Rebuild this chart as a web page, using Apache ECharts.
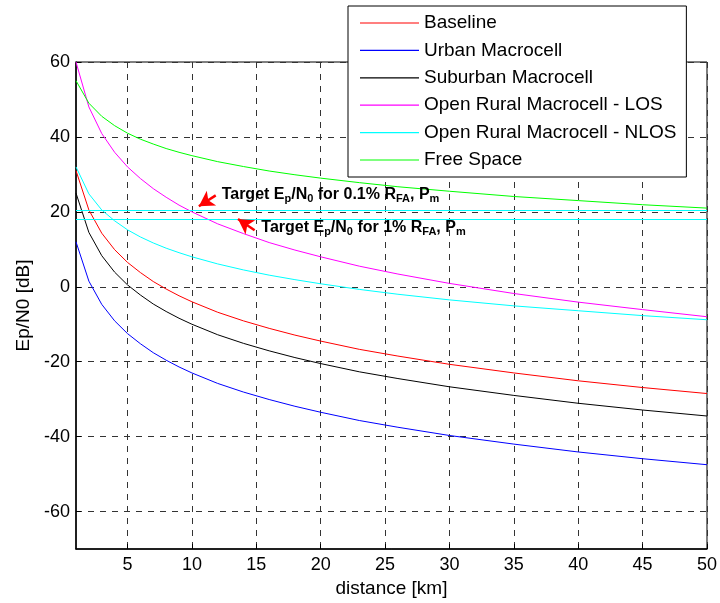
<!DOCTYPE html>
<html>
<head>
<meta charset="utf-8">
<script src="https://cdn.jsdelivr.net/npm/echarts@6/dist/echarts.min.js"></script>
<style>
  html, body { margin: 0; padding: 0; background: #fff; }
  #main { width: 720px; height: 603px; }
</style>
</head>
<body>
<div id="main"></div>
<script>
// distance [km]
var distance = [1, 2, 3, 4, 5, 6, 7, 8, 9, 10, 12, 14, 16, 18, 20, 23, 26, 30, 35, 40, 45, 50];

// Ep/N0 [dB]
var baseline = [31, 20.5, 14.3, 9.9, 6.5, 3.8, 1.4, -0.6, -2.4, -4.0, -6.8, -9.1, -11.1, -12.9, -14.5, -16.7, -18.5, -20.7, -23.0, -25.1, -26.9, -28.5];
var urban = [12, 1.5, -4.7, -9.1, -12.5, -15.2, -17.6, -19.6, -21.4, -23.0, -25.8, -28.1, -30.1, -31.9, -33.5, -35.7, -37.5, -39.7, -42.0, -44.1, -45.9, -47.5];
var suburban = [25, 14.5, 8.3, 3.9, 0.5, -2.2, -4.6, -6.6, -8.4, -10.0, -12.8, -15.1, -17.1, -18.9, -20.5, -22.7, -24.5, -26.7, -29.0, -31.1, -32.9, -34.5];
var ruralLos = [60, 48.0, 40.9, 35.9, 32.0, 28.9, 26.2, 23.9, 21.8, 20.0, 16.8, 14.2, 11.8, 9.8, 8.0, 5.5, 3.4, 0.9, -1.8, -4.1, -6.1, -8.0];
var ruralNlos = [32, 24.8, 20.5, 17.6, 15.2, 13.3, 11.7, 10.3, 9.1, 8.0, 6.1, 4.5, 3.1, 1.9, 0.8, -0.7, -2.0, -3.5, -5.1, -6.4, -7.7, -8.8];
var freeSpace = [55, 49.0, 45.5, 43.0, 41.0, 39.4, 38.1, 36.9, 35.9, 35.0, 33.4, 32.1, 30.9, 29.9, 29.0, 27.8, 26.7, 25.5, 24.1, 23.0, 21.9, 21.0];

var names = ['Baseline', 'Urban Macrocell', 'Suburban Macrocell', 'Open Rural Macrocell - LOS', 'Open Rural Macrocell - NLOS', 'Free Space'];
var colors = ['#ff0000', '#0000ff', '#000000', '#ff00ff', '#00ffff', '#00ff00'];
var values = [baseline, urban, suburban, ruralLos, ruralNlos, freeSpace];

// tick values
var xTicks = [5, 10, 15, 20, 25, 30, 35, 40, 45, 50];
var yTicks = [-60, -40, -20, 0, 20, 40, 60];

// target Ep/N0 levels (0.1% RFA, 1% RFA)
var targets = [20.5, 18];

var font = 'Arial, "Liberation Sans", sans-serif';

var chartDom = document.getElementById('main');
var myChart = echarts.init(chartDom);

function pairs(ys) {
  var out = [];
  for (var i = 0; i < distance.length; i++) out.push([distance[i], ys[i]]);
  return out;
}

var series = [];
for (var k = 0; k < names.length; k++) {
  series.push({
    name: names[k],
    type: 'line',
    data: pairs(values[k]),
    symbol: 'none',
    lineStyle: { color: colors[k], width: 1 },
    itemStyle: { color: colors[k] },
    z: 3
  });
}

// cyan target lines + red arrows
series.push({
  type: 'line',
  data: [],
  silent: true,
  markLine: {
    silent: true,
    symbol: ['none', 'none'],
    label: { show: false },
    lineStyle: { color: '#00ffff', type: 'solid', width: 1 },
    data: targets.map(function (t) { return { yAxis: t }; })
  }
});
series.push({
  type: 'line',
  data: [],
  silent: true,
  markLine: {
    silent: true,
    symbol: ['none', 'arrow'],
    symbolSize: [13, 15],
    label: { show: false },
    lineStyle: { color: '#ff0000', type: 'solid', width: 2.5 },
    data: [
      [{ coord: [11.85, 24.4] }, { coord: [10.54, 21.5] }],
      [{ coord: [14.87, 15.1] }, { coord: [13.58, 18.1] }]
    ]
  }
});

var option = {
  animation: false,
  backgroundColor: '#fff',
  textStyle: { fontFamily: font },
  grid: {
    left: 76, right: 10, top: 62, bottom: 53,
    show: true, borderColor: '#000', borderWidth: 1, backgroundColor: 'transparent'
  },
  legend: {
    orient: 'vertical',
    left: 348, top: 6,
    padding: [7, 10, 7, 12],
    itemWidth: 59, itemHeight: 1.2, itemGap: 7.4,
    backgroundColor: '#fff', borderColor: '#000', borderWidth: 1,
    textStyle: { fontSize: 19, color: '#000', lineHeight: 20, fontFamily: font },
    data: names.map(function (n) { return { name: n, icon: 'rect' }; })
  },
  xAxis: {
    type: 'value', min: 1, max: 50,
    name: 'distance [km]', nameLocation: 'middle', nameGap: 30,
    nameTextStyle: { fontSize: 19, color: '#000' },
    axisLine: { onZero: false, lineStyle: { color: '#000', width: 1.5 } },
    axisTick: { inside: true, length: 5, customValues: xTicks, lineStyle: { color: '#000' } },
    axisLabel: { fontSize: 18, color: '#000', margin: 7, customValues: xTicks },
    splitLine: { show: true, lineStyle: { color: '#333', type: [6, 6], width: 1 } }
  },
  yAxis: {
    type: 'value', min: -70, max: 60,
    name: 'Ep/N0 [dB]', nameLocation: 'middle', nameGap: 41,
    nameTextStyle: { fontSize: 19, color: '#000' },
    axisLine: { onZero: false, lineStyle: { color: '#000', width: 1.5 } },
    axisTick: { inside: true, length: 5, customValues: yTicks, lineStyle: { color: '#000' } },
    axisLabel: { fontSize: 18, color: '#000', margin: 6, customValues: yTicks },
    splitLine: { show: true, lineStyle: { color: '#333', type: [6, 6], width: 1 } }
  },
  series: series
};
myChart.setOption(option);

// annotation texts, placed via data coordinates
var rich = {
  b: { fontSize: 16, fontWeight: 'bold', color: '#000', lineHeight: 20, fontFamily: font },
  s: { fontSize: 11, fontWeight: 'bold', color: '#000', lineHeight: 10, verticalAlign: 'bottom', fontFamily: font }
};
var p1 = myChart.convertToPixel({ gridIndex: 0 }, [12.31, 24.0]);
var p2 = myChart.convertToPixel({ gridIndex: 0 }, [15.39, 15.3]);
myChart.setOption({
  graphic: [
    {
      type: 'text', left: p1[0], top: p1[1] - 10, z: 10,
      style: { text: '{b|Target E}{s|p}{b|/N}{s|0}{b| for 0.1% R}{s|FA}{b|, P}{s|m}', rich: rich }
    },
    {
      type: 'text', left: p2[0], top: p2[1] - 10, z: 10,
      style: { text: '{b|Target E}{s|p}{b|/N}{s|0}{b| for 1% R}{s|FA}{b|, P}{s|m}', rich: rich }
    }
  ]
});
</script>
</body>
</html>
